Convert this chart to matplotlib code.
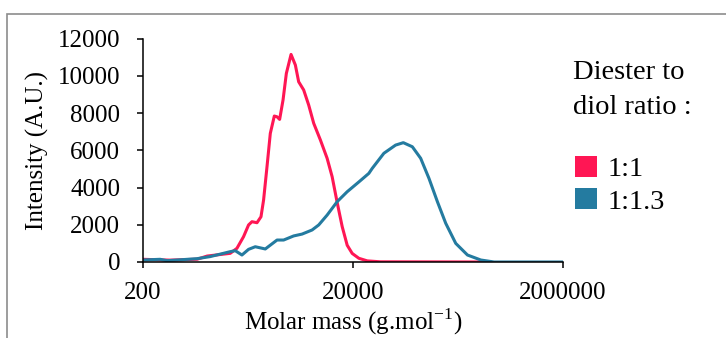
import matplotlib
matplotlib.use('Agg')
import matplotlib.pyplot as plt
from matplotlib.patches import Patch, Rectangle

# Masa molar (g/mol) e intensidad
masa_11 = [200, 362, 656, 817, 1354, 1569, 1814, 2025, 2182, 2435, 2659, 2815, 3034,
           3262, 3562, 3780, 4002, 4312, 4637, 5141, 5651, 6076, 6782, 7570, 8450,
           9790, 11340, 12660, 14130, 15780, 17610, 19660, 22730, 27330, 36610, 410900]
int_11 = [145, 100, 150, 320, 465, 735, 1360, 1990, 2165, 2110, 2430, 3330, 5120,
          6910, 7840, 7800, 7660, 8700, 10130, 11150, 10580, 9680, 9240, 8430, 7450,
          6550, 5570, 4580, 3200, 1900, 900, 460, 200, 60, 10, 0]

masa_113 = [200, 291, 339, 656, 872, 1354, 1511, 1751, 2025, 2345, 2922, 3780, 4369,
            5444, 6548, 8157, 9430, 11340, 14130, 17610, 22730, 28300, 30500, 39360,
            50900, 60290, 73480, 88210, 105850, 127300, 152800, 190400, 246200,
            329800, 441800, 2000000]
int_113 = [107, 145, 70, 180, 290, 555, 610, 375, 680, 820, 700, 1180, 1180,
           1400, 1500, 1720, 1990, 2520, 3240, 3775, 4300, 4760, 5030, 5840,
           6280, 6410, 6190, 5570, 4490, 3240, 2080, 1000, 375,
           107, 0, 0]

series = ['1:1', '1:1.3']
colores = ['#FF1654', '#247BA0']
ticks_x = [200, 20000, 2000000]
ticks_y = [0, 2000, 4000, 6000, 8000, 10000, 12000]

plt.rcParams['font.family'] = ['Liberation Serif', 'DejaVu Serif']
plt.rcParams['font.size'] = 18

fig = plt.figure(figsize=(7.26, 3.38), dpi=100)
ax = fig.add_axes([143/726, 1-262/338, (563-143)/726, (262-38.6)/338])

ax.plot(masa_11, int_11, color=colores[0], lw=2.2, solid_joinstyle='round', solid_capstyle='round')
ax.plot(masa_113, int_113, color=colores[1], lw=2.2, solid_joinstyle='round', solid_capstyle='round')

ax.set_xscale('log')
ax.set_xlim(200, 2000000)
ax.set_ylim(0, 12000)
ax.set_xticks(ticks_x)
ax.set_xticklabels([str(t) for t in ticks_x])
ax.minorticks_off()
ax.set_yticks(ticks_y)
ax.set_yticklabels([str(t) for t in ticks_y])
ax.tick_params(axis='y', direction='out', length=4.5, width=1.1, pad=12)
ax.tick_params(axis='x', direction='out', length=4.5, width=1.1, pad=10)
for s in ['top', 'right']:
    ax.spines[s].set_visible(False)
for s in ['left', 'bottom']:
    ax.spines[s].set_linewidth(1.1)

ax.set_xlabel('Molar mass (g.mol$^{\\mathregular{-1}}$)', labelpad=2)
ax.set_ylabel('Intensity (A.U.)', labelpad=6)

# título de la leyenda
fig.text(573/726, 1-79/338, 'Diester to', va='baseline', ha='left', fontsize=20.5)
fig.text(573/726, 1-114/338, 'diol ratio :', va='baseline', ha='left', fontsize=20.5)

manijas = [Patch(facecolor=c, edgecolor='none') for c in colores]
fig.legend(manijas, series, loc='upper left', bbox_to_anchor=(575/726, 1-156/338),
           frameon=False, handlelength=0.76, handleheight=0.76, fontsize=20.5,
           handletextpad=0.4, labelspacing=0.2,
           borderaxespad=0, borderpad=0)

# marco gris del gráfico
fig.add_artist(Rectangle((7/726, -0.1), 1.0, 1-14/338+0.1, transform=fig.transFigure,
                         fill=False, edgecolor='#8c8c8c', lw=1.2))

fig.savefig('out.png', dpi=100)
